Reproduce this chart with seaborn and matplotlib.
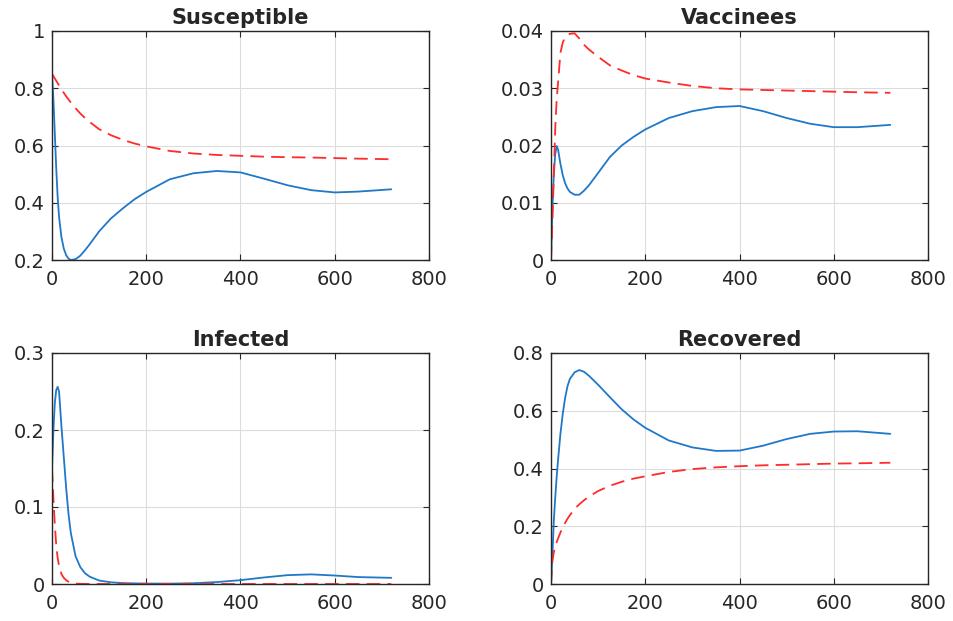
import matplotlib
matplotlib.use("Agg")
import matplotlib.pyplot as plt
import seaborn as sns
import pandas as pd
from matplotlib.ticker import FuncFormatter

# time grid (days)
t = [0, 3, 6, 9, 12, 15, 20, 25, 30, 35, 40, 50, 60, 70, 80, 100, 125, 150,
     175, 200, 250, 300, 350, 400, 450, 500, 550, 600, 650, 720]

# solid (blue) series
S_blue = [0.85, 0.76, 0.64, 0.52, 0.42, 0.35, 0.28, 0.24, 0.217, 0.205, 0.20,
          0.203, 0.215, 0.234, 0.255, 0.30, 0.345, 0.38, 0.412, 0.438, 0.482,
          0.503, 0.511, 0.506, 0.484, 0.461, 0.444, 0.436, 0.439, 0.447]
V_blue = [0.0, 0.009, 0.015, 0.0185, 0.0199, 0.0193, 0.0168, 0.0148, 0.0134,
          0.0125, 0.0119, 0.0114, 0.0114, 0.0121, 0.013, 0.0152, 0.018, 0.020,
          0.0215, 0.0228, 0.0248, 0.026, 0.0267, 0.0269, 0.026, 0.0248, 0.0238,
          0.0232, 0.0232, 0.0236]
I_blue = [0.15, 0.20, 0.235, 0.252, 0.256, 0.25, 0.205, 0.165, 0.125, 0.091,
          0.066, 0.036, 0.022, 0.014, 0.0095, 0.0045, 0.0022, 0.0012, 0.0008,
          0.0006, 0.0005, 0.001, 0.0025, 0.005, 0.0085, 0.0115, 0.0125, 0.011,
          0.009, 0.008]
R_blue = [0.0, 0.10, 0.22, 0.30, 0.37, 0.43, 0.52, 0.59, 0.645, 0.685, 0.71,
          0.733, 0.741, 0.735, 0.722, 0.69, 0.647, 0.605, 0.57, 0.541, 0.497,
          0.473, 0.461, 0.462, 0.479, 0.502, 0.52, 0.528, 0.529, 0.52]

# dashed (red) series
S_red = [0.85, 0.842, 0.834, 0.826, 0.818, 0.81, 0.797, 0.784, 0.772, 0.761,
         0.75, 0.73, 0.712, 0.696, 0.682, 0.657, 0.636, 0.62, 0.607, 0.597,
         0.581, 0.572, 0.567, 0.564, 0.561, 0.559, 0.558, 0.556, 0.554, 0.552]
V_red = [0.0, 0.007, 0.015, 0.023, 0.028, 0.031, 0.0362, 0.038, 0.0389, 0.0393,
         0.0395, 0.0396, 0.0387, 0.0376, 0.0368, 0.0355, 0.034, 0.0331, 0.0323,
         0.0317, 0.031, 0.0304, 0.030, 0.0298, 0.0297, 0.0296, 0.0295, 0.0294,
         0.0293, 0.0292]
I_red = [0.15, 0.11, 0.077, 0.05, 0.034, 0.023, 0.013, 0.008, 0.005, 0.003,
         0.0015, 0.0005, 0.0002, 0.0001, 0, 0, 0, 0, 0, 0, 0, 0, 0, 0, 0, 0, 0,
         0, 0, 0]
R_red = [0.0, 0.08, 0.11, 0.13, 0.145, 0.158, 0.178, 0.196, 0.212, 0.226, 0.238,
         0.26, 0.276, 0.29, 0.302, 0.322, 0.34, 0.354, 0.365, 0.373, 0.388, 0.398,
         0.404, 0.408, 0.411, 0.413, 0.415, 0.417, 0.418, 0.42]

titles = ["Susceptible", "Vaccinees", "Infected", "Recovered"]
ylims = [(0.2, 1.0), (0.0, 0.04), (0.0, 0.3), (0.0, 0.8)]
yticks = [[0.2, 0.4, 0.6, 0.8, 1.0], [0, 0.01, 0.02, 0.03, 0.04],
          [0, 0.1, 0.2, 0.3], [0, 0.2, 0.4, 0.6, 0.8]]
xticks = [0, 200, 400, 600, 800]

sns.set_style("ticks")
plt.rcParams['font.family'] = ['DejaVu Sans']

fig = plt.figure(figsize=(9.54, 6.21), dpi=100)
W, H = 954, 621
boxes = [(52, 31, 429, 260), (551, 31, 928, 260),
         (52, 353, 429, 584), (551, 353, 928, 584)]

blues = [S_blue, V_blue, I_blue, R_blue]
reds = [S_red, V_red, I_red, R_red]

fmt = FuncFormatter(lambda v, p: f"{v:g}")
for i in range(4):
    l, tp, r, b = boxes[i]
    ax = fig.add_axes([l / W, (H - b) / H, (r - l) / W, (b - tp) / H])
    df = pd.DataFrame({"t": t, "blue": blues[i], "red": reds[i]})
    sns.lineplot(data=df, x="t", y="blue", ax=ax, color="#1f78c8", linewidth=1.3)
    sns.lineplot(data=df, x="t", y="red", ax=ax, color="#ff2a2a", linewidth=1.3,
                 linestyle=(0, (7.5, 4)))
    ax.set_xlim(0, 800)
    ax.set_ylim(*ylims[i])
    ax.set_xticks(xticks)
    ax.set_yticks(yticks[i])
    ax.xaxis.set_major_formatter(fmt)
    ax.yaxis.set_major_formatter(fmt)
    ax.set_xlabel("")
    ax.set_ylabel("")
    ax.grid(True, color="#dcdcdc", linewidth=0.8)
    ax.set_axisbelow(True)
    for s in ax.spines.values():
        s.set_visible(True)
        s.set_color("#262626")
        s.set_linewidth(1.0)
    ax.tick_params(direction="in", top=True, right=True, length=4, width=0.8,
                   color="#262626", labelsize=14, labelcolor="#262626")
    ax.tick_params(axis="x", pad=7)
    ax.tick_params(axis="y", pad=5)
    ax.set_title(titles[i], fontsize=15, fontweight="bold", pad=5)

fig.savefig("out.png", dpi=100)
